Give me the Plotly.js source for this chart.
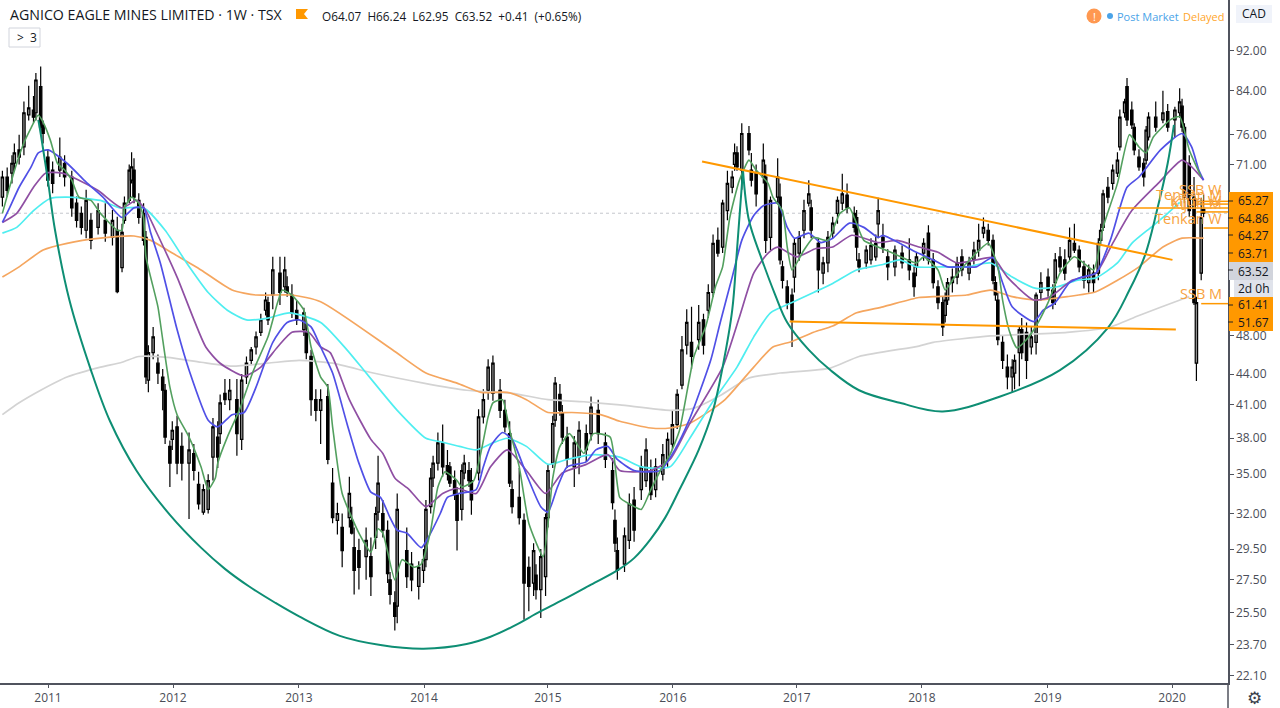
<!DOCTYPE html>
<html><head><meta charset="utf-8">
<script src="https://cdn.plot.ly/plotly-3.0.1.min.js"></script>
<style>html,body{margin:0;padding:0;background:#fff;overflow:hidden}#c{width:1280px;height:708px}</style>
</head><body><div id="c"></div>
<script>
// Weekly bars (bar number counted from the left edge of the chart)
const weeks=[1,3,5,6,8,10,12,14,15,17,
18,20,22,25,27,30,32,34,36,38,
41,44,47,49,51,52,54,55,56,58,
60,61,62,64,66,68,69,71,72,74,
76,79,81,83,85,87,89,91,92,94,
96,99,101,103,105,107,109,111,112,114,
117,119,120,122,124,127,128,130,132,134,
137,139,141,143,146,147,148,150,153,155,
157,158,160,162,163,165,166,170,172,175,
177,178,180,181,183,185,187,188,190,191,
193,194,196,197,200,202,204,206,209,211,
213,214,217,219,221,223,224,226,228,229,
231,232,234,235,237,240,242,245,247,250,
253,256,257,258,261,263,265,268,270,272,
274,277,279,281,283,285,287,289,292,294,
296,298,300,302,304,306,307,308,310,313,
314,316,319,320,322,325,326,327,329,331,
332,334,336,338,339,342,344,346,348,350,
352,354,357,358,359,362,364,366,367,369,
371,374,377,380,382,383,386,388,390,392,
394,395,396,398,400,402,405,407,409,411,
413,415,416,417,419,421,423,424,426,427,
429,431,433,435,438,440,441,443,445,447,
449,451,453,455,457,459,460,461,463,465,
467,468,470,471,473,474,476,478,479,480,
483,486,488,491,493,494,495,497,499,500,
502,503];
const opens=[65.9,69,69.6,71.2,73.4,73.9,79.5,80.4,79.9,84.8,
77.7,72.2,70.1,70.1,71.2,69,65,63.5,61.1,62.5,
61.5,62.5,60.1,61.1,56.1,62.5,65.4,68.5,70.1,65.4,
63.5,60.1,43.4,46.2,45.1,43.7,42.4,37.3,37.9,39,
37.3,35.9,36.7,34.2,32.1,32.3,36.4,38.1,38.4,42.1,
41.5,41.5,37.9,43.7,45.4,46.8,48.4,50.9,51.8,52.7,
55.4,53.7,53.7,52.7,50.9,48.7,48.4,45.8,41.5,40.5,
41.8,34.3,31.5,31,31.7,31.5,29.6,29.4,29,29,
30.3,32.1,32,30.8,27.5,26.1,25.9,29.4,28.5,27.1,
28.1,28.8,32.5,34.7,35.9,37.6,35.7,35.6,34.5,33.4,
32.3,35.1,35.3,34.5,35.1,39.9,42.4,42.1,42.4,40.5,
38.4,33.8,33.2,31.5,28.3,27.3,27.8,26.9,27.7,31.7,
35.9,39.6,42,40.3,38.1,35.6,36.4,38.4,38.4,40.5,
37.6,35.3,31.5,29.4,28.5,30.1,33,33.8,34.5,35.3,
33.8,35,36.2,37.5,39.2,42.9,47,47.3,47.6,49.8,
50.9,53,59.7,58.8,63.9,67.4,71,72.9,70.1,76.2,
70.1,69.6,69,69,60.1,65.9,65.9,56.2,53.7,52.7,
54.9,58,61.1,65,64.3,59.3,55.4,56.7,60.7,63.5,
65,66.2,63.5,62.9,57.1,56.7,57.1,57.5,62,60.1,
57.5,56.2,58,57.1,55.4,56.2,58,60.7,57.1,53.7,
51.8,50.3,52.1,54.2,54.9,57.5,55.4,57.1,58.4,60.7,
61.1,59.7,54.2,52.1,47.3,44.7,43.7,44.1,46.2,48.7,
48.4,46.8,47.3,53,54.9,53.3,54.2,57.5,57.1,57.5,
59.3,58.4,56.2,54.2,55.4,55.4,59.7,61.5,67.4,68,
69.6,73.9,79.9,84.8,80.4,77.3,72.2,71.2,71.7,75.6,
79.1,78.6,80.1,78.6,79.9,81.1,77.3,71.2,65.9,45.1,
55.4,64.07];
const highs=[70,70.5,72.5,74.5,76,82,85,83,87.5,88.8,
78.5,73.5,71.5,75.5,72.5,70,66,64.5,67,63.5,
65,65,64,63,62,66,71,73,72,66.5,
65,61,47,49,46,44.5,43,37.8,39.5,40,
38.5,38.5,37.5,35.2,34.2,35,39.8,39.5,42,43.5,
43.5,43.5,44,45.8,46.8,48.5,50.5,53,52.5,57.5,
57.5,57.5,55,54,52,51.2,49.5,46.5,42.5,42.5,
43,35.5,32.8,32,34.8,32.5,31,30.2,31,30.3,
32.5,36.5,33,31.5,28,26.8,33.5,31,29.3,28.7,
29.5,33,35.5,36.5,38.5,39.2,37,36,35.3,34,
35.8,36.6,36,35.5,40.6,42.5,45.5,45.9,43.5,41.5,
39.5,34.5,35.5,32,29,29.9,28.5,29.5,32,35.8,
40,43.7,43,41,39,38.2,39.5,39.2,41.8,41.5,
38.5,36.3,32.3,30.3,31,33.5,34,36.5,38,36.2,
36.3,37.5,38.5,40.5,42.5,48,51,51.3,51.5,50.5,
54,60.5,61.5,65.5,70,70,74.5,74,78,77.5,
72.9,71,74.5,71,66,72,68,57,54.5,53.5,
60,61,65.5,68.5,65.5,60,57.5,61,63,66,
69.5,68,64.5,64,58,59,60,60.5,65.8,62,
58.5,59,59,60,56.5,58,60,61.8,58,54.5,
52.5,53,54.8,56,57.5,58.5,57.5,59.5,62,62.9,
62,60.5,55,53,48,46,45.5,46,49,50,
49.5,49,53,55.5,56,54,58,58.8,58.5,61.5,
62,59,57,56.5,56.5,60,62,67,69,71,
73,80.5,82.5,86.5,82,78,73.5,72,77.5,80,
82,84,81.5,81,84.5,82.5,78,72.5,69,52.5,
65.8,66.24];
const lows=[64.5,66,68,70,71,72.5,78.5,78,78.5,76,
74.5,67.5,66.5,69,67.5,63,61.5,60.5,60,58.5,
60.5,59.5,59,52.9,55.5,62,65,68,65,62,
59,43,42.2,45.5,43,40.5,37.5,34,37,35,
34.5,31.6,34.5,32.3,31.9,32,34.5,35.5,37.5,41,
40.5,36.5,37,43,45,46,48,50.3,49.2,51,
51.5,53,52.5,50,49.2,48,45.5,40,39.5,37.5,
35.8,31.3,30.5,28.3,31,30.5,26.6,26.9,27.5,26.5,
29.5,31.5,30.3,27.3,26,24.5,24.9,27,26.8,26.3,
27.3,28.3,32,34,35.3,34.8,34.5,34,33,29.4,
31.5,34.6,34,31.9,34.5,39.3,41.5,41.4,39.8,38.5,
34,32,31.2,25.1,25.6,26.5,26.3,25.2,26.5,31,
35.5,39,40,37.5,35.5,34,35,36,37.8,37.5,
35.5,32.3,29.3,27.5,28,29.5,30,33,34,33,
33.2,34.5,35.5,37,38.8,42.5,46,44.5,46.5,46,
50,52.5,57.5,58,62.5,66.5,70,70,67,72.5,
67.5,64.5,68,58,58.4,65,56.5,53.5,51,46.8,
53,57,60,64.5,60,53,54,55.5,60,62,
64,63.5,60.8,57,55.5,56,56.5,57,60,58,
54.5,55,56,54.5,52.5,55,57,56.5,53.5,51,
48,49.5,51.5,53,54,55,54.5,56.5,57.5,60,
59,54,52,47,44.5,42.5,42.2,42.5,42.8,45.5,
43.5,46,46,52,52.5,51,51.5,55.5,54.5,57,
58,55.5,53.5,53,53,54.5,59,61,65,67,
69,73.3,79,77.5,77,72.5,70,67.5,71,75,
76.5,78,76.5,75.5,79,76.5,65,63,51.5,43.3,
54.5,62.95];
const closes=[69,66.9,71.2,72.9,72.2,79.9,80.8,79.1,86.1,77.3,
76.2,68.5,68,72.2,69,64.3,62.5,61.5,65.4,59.7,
63.9,60.7,62.5,53.1,60.8,65,70.1,70.6,65.9,62.9,
59.7,43.7,46.2,47.9,44.1,42.4,38.1,35.9,38.7,35.9,
35.9,37,35.3,32.7,33.8,34.5,39,36.4,41.2,41.5,
42.4,38.4,43.4,45.1,46.5,47.9,49.8,52.1,49.8,55.8,
53,55.8,53,50.6,49.8,50.6,46.2,41.5,40.5,41.5,
36.2,31.7,32,29.4,33.5,30.6,28.1,28.3,30.1,27.7,
32,34.3,30.8,27.9,26.6,25.3,32.3,27.7,27.5,28.3,
28.8,32.3,34.7,35.9,37.6,35.6,35,34.3,33.4,31.5,
35.3,35.9,34.5,33,39.9,41.5,44.7,45.1,40.5,39,
34.3,32.5,31.7,27.3,27.1,29.4,26.9,29,31.7,35.3,
39.3,43.1,40.5,38.1,36.2,37.6,38.7,37,40.8,38.4,
36.2,32.8,29.9,28.1,30.4,32.7,30.8,35.6,37,33.4,
35.6,36.6,37.9,39.2,42,46.5,49.5,45.8,49.5,47,
53,59.3,58,65,68,69,72.9,70.6,76.2,73.4,
68.5,66.4,71.7,59.7,65.4,69,57.1,54.5,51.8,49.8,
59.3,60.1,63.9,66.4,61.1,55.8,56.7,60.1,62.1,65.4,
66.4,64.3,61.5,58.8,56.2,58.4,59,59.3,63.9,58.8,
56.2,58.4,56.7,55.8,53.7,57.5,59.3,57.1,54.2,51.8,
49,52.1,54.2,54.9,56.7,55.8,56.7,58.4,59.7,61.5,
59.7,54.5,52.7,47.6,45.4,43.7,44.7,45.4,48.7,46.2,
45.4,47.9,52.7,54.2,53.3,51.8,57.1,56.2,55.4,59.7,
58.4,56.2,54.5,55.8,54.2,59.3,61.1,66.4,65.9,70.1,
71.7,79.1,81.9,78.6,77.7,73.4,70.6,69,76.8,79.1,
77.3,79.9,77.3,80.4,81.9,77.3,65.9,63.9,51.8,51.8,
62.9,63.52];

// Moving averages: [bar number], [price]
const maFastW=[1,4,7,10,13,16,18,21,24,27,30,33,38,42,49,51,52,55,58,60,61,66,68,71,74,79,84,87,90,91,95,100,106,112,116,118,122,127,130,134,137,139,143,150,155,158,160,165,168,173,176,180,183,186,191,193,198,204,206,210,213,217,221,227,231,234,238,244,248,255,259,263,268,272,276,280,284,290,295,299,302,305,309,313,316,321,323,327,329,331,336,340,346,351,355,361,367,373,383,386,392,395,399,404,413,417,419,422,425,429,433,438,443,449,457,461,467,472,476,479,482,489,493,497,502];
const maFastP=[63.5,67.4,71.2,74.6,77.2,79.5,78.2,75.1,71.2,70.1,68.5,65.9,65.4,63.5,61.1,61.1,64.3,65.9,65,62.9,57.5,51.3,47.6,42.7,40.1,38.1,35.6,33.8,34.7,35.9,38.1,40.5,44.4,47.9,51.8,53.3,52.7,50.9,46.8,43.7,42.7,39,33.5,30.6,29.3,30.9,30.6,27.5,28.8,28.3,28.5,30.8,34,35.2,34.5,34,34.5,39.9,41.2,41.5,38.7,35.6,31.3,29,34.7,37.3,38.4,36.7,38.4,38.1,33.2,32.7,32.3,33.8,35.3,36.6,38.7,45.8,49.1,53.7,56.2,62.9,68.5,71.7,70.1,68,65.9,63.9,58.8,55.8,58.4,60.1,59.7,63.5,64.3,59.7,58.8,58,56.7,57.5,55.8,53.3,54.9,56.7,59.3,56.2,52.1,48.4,46.7,47.6,49.1,51.8,55.4,57.5,55.8,61.5,68,76,73.9,72.9,75.6,78.6,79.2,73.4,69];
const maMidW=[1,4,8,13,16,20,28,36,43,51,56,60,63,67,74,79,87,91,97,102,107,114,120,125,130,134,139,145,150,155,159,163,166,170,176,179,184,187,192,199,202,205,210,214,220,226,229,233,237,245,249,254,258,265,276,282,288,297,301,306,310,315,319,325,329,332,338,343,348,355,361,367,369,376,383,390,396,402,408,415,419,423,432,436,441,447,452,458,464,471,476,485,494,498,501,503];
const maMidP=[62.2,64.3,67.4,70.6,72.9,73.4,71.2,68.2,65.9,62.9,64.3,64.3,60.7,56.7,48.7,44.4,39.6,39,40.1,40.3,42.7,47.3,49.5,49.8,49,46.8,44.1,39.3,35.9,33.6,33.2,31.7,30.8,30.6,29.6,30.3,32,33.2,33.5,33.8,35.6,37.3,38.5,37.9,35,32.5,32.1,34,35.6,36,37,37.3,36.2,35.3,35.3,37,39.6,45.4,49.5,54.9,59.7,63.2,64.6,65,61.5,60,60.7,59.4,60,62.1,61.5,60.1,60.4,59.3,58.1,57.1,56.2,56.2,56.2,57.4,54.2,51.3,49.6,50.9,51.8,54.2,54.9,55.4,59.7,67.4,69,73.4,76.2,73.9,70.1,68.5];
const maSlowW=[1,7,14,19,26,33,41,51,57,61,65,74,86,92,102,109,116,122,129,134,138,146,155,160,165,171,178,185,191,199,205,212,220,228,235,245,254,259,272,280,288,302,309,315,321,325,333,341,348,356,367,375,384,392,400,408,415,421,432,439,448,458,465,473,484,494,498,503];
const maSlowP=[62.2,63.5,67.4,69.6,69.6,68.5,66.9,64.3,65.4,63.9,61.1,54.9,46.8,45.1,43.8,44.7,46.8,48.4,48.4,46.8,46.2,41.5,37.9,36.7,34.7,33.8,32.5,33.5,33.9,33.5,35.6,37,35.3,33.5,35.1,35.8,36.6,35.3,35.3,36.2,39.2,44.7,50.1,55.4,58,58.8,57.5,58.6,58.8,60.4,59.4,59.7,58.8,58.1,56.7,57.1,57.4,54.9,52.1,52.5,54.5,55.4,59.3,63.9,68,71.7,70.6,68.5];
const maCyanW=[1,7,14,21,28,42,50,60,69,78,87,95,103,112,121,134,145,152,160,166,178,184,192,199,206,212,220,229,237,248,259,268,280,288,297,308,315,322,331,340,348,358,369,376,383,394,404,414,423,433,442,450,458,467,473,481,488,493];
const maCyanP=[60.7,61.5,63.9,65.7,65.9,65.4,64.3,64.3,61.1,56.7,53,50.9,49.8,50,50.6,49.5,46.5,44.4,42.1,40.5,38,37.7,37.3,37,37.6,38,37.3,35.8,36.2,36.6,36.4,35.6,35.6,37.9,41,44.7,47.9,50.6,51.8,53,54.1,55.8,56.5,57.1,56.2,56.2,56.2,56.7,54.9,53.5,53.7,54.5,54.8,56.7,59.3,61.5,63.5,65.1];
const maOrangeW=[1,8,18,28,42,56,63,72,84,97,107,122,134,164,178,191,201,212,220,229,239,251,259,272,280,288,297,303,315,323,331,340,348,358,369,384,390,404,414,423,433,446,458,467,476,486,494,503];
const maOrangeP=[54.9,56.2,58.4,59.3,60,60.3,59.7,58,55.8,53.3,52.7,52.7,51.9,46.5,44.1,43.1,42.2,42.2,41.5,40.3,40.3,40.1,39.5,38.9,38.9,39.3,40.5,41.5,44.7,46.8,47.4,48.4,49.1,50.6,51.3,52.4,52.5,52.7,53.3,52.5,52.1,52.5,53.1,54.5,56.2,58.8,60,60];
const maGreyW=[1,8,17,28,42,51,58,70,84,97,112,125,139,156,177,195,214,229,244,259,280,290,301,313,326,347,359,384,390,414,446,463,476,494,497];
const maGreyP=[40.1,41.2,42.4,43.7,44.7,45.2,45.8,45.7,45.2,44.8,45.1,45.4,45.1,44.1,43.1,42.4,42.1,41.5,41.3,41,40.5,40.7,41.9,43.6,44.1,44.6,45.8,46.9,47.3,48,48.4,48.9,50.3,52.2,52.5];

// Hand-drawn arcs and trend lines
const arcBigW=[16,17,20,23,29,38,46,57,71,84,94,104,115,125,142,159,177,195,205,214,226,237,247,258,265,272,278,284,292,298,302,306,308,310.5];
const arcBigP=[78.6,76.2,68.5,61.1,52.1,44.4,39.5,35.3,31.9,29.6,28.2,27.1,26.1,25.3,24.2,23.7,23.5,23.75,24.15,24.7,25.6,26.4,27.2,28.1,28.9,30.2,31.7,33.8,37,40.5,44.7,50.9,58.4,70.1];
const arcSmallW=[310.5,313,318,324,329,338,347,359,376,394,418,443,463,472,478.5,483.5,488,490.6];
const arcSmallP=[70.1,62.5,57.5,52.7,49.5,46.5,44.4,42.4,41.2,40.4,41.8,44.4,48.9,53.3,57.7,63.9,71.2,77.7];
const trendTopW=[293.4,490], trendTopP=[71.5,57.1];
const trendLowW=[330,491.4], trendLowP=[49.6,48.7];
const levelPrices=[65.27,64.86,64.27,63.71,61.41,51.67];
const levelStarts=[500,500,467,500,503,502];

// Axis labels
const yearWeeks=[20.06,72.3,124.9,177.2,229,281.2,333,385.3,437.9,489.8];
const yearLabels=['2011','2012','2013','2014','2015','2016','2017','2018','2019','2020'];
const priceTicks=[92,84,76,71,48,44,41,38,35,32,29.5,27.5,25.5,23.7,22.1];
const lastPrice=63.52;
const orangeTags=[['65.27',201],['64.86',218],['64.27',235],['63.71',253],['61.41',305],['51.67',322]];
const levelNames=[['SSB W',1223,190],['Tenkan M',1223,194],['Kijun W',1223,200],['Kijun M',1223,203],['Tenkan W',1223,218],['SSB M',1223,293]];

const W=1228,H=683,FONT='"Open Sans",sans-serif';
const px=x=>x/W, py=y=>1-y/H;
const DARK='#131722',AX='#50535e',ORG='#ff9800';
const ann=(text,x,y,o={})=>Object.assign({text,x:px(x),y:py(y),xref:'paper',yref:'paper',showarrow:false,xanchor:'left',yanchor:'middle',borderpad:0,
  font:{family:FONT,size:12,color:DARK}},o);
const rect=(x0,y0,x1,y1,o={})=>Object.assign({type:'rect',xref:'paper',yref:'paper',x0:px(x0),x1:px(x1),y0:py(y0),y1:py(y1),line:{width:0},layer:'above'},o);
const seg=(x0,y0,x1,y1,color,width)=>({type:'line',xref:'paper',yref:'paper',x0:px(x0),x1:px(x1),y0:py(y0),y1:py(y1),line:{color,width},layer:'above'});

const traces=[
 {type:'candlestick',x:weeks,open:opens,high:highs,low:lows,close:closes,whiskerwidth:0,hoverinfo:'skip',
  increasing:{line:{color:'#000',width:1.2},fillcolor:'#8c8c8c'},decreasing:{line:{color:'#000',width:1.2},fillcolor:'#000'}}
];
const line=(x,y,color,width,smoothing)=>traces.push({type:'scatter',mode:'lines',x,y,hoverinfo:'skip',line:{color,width,shape:'spline',smoothing}});
line(maGreyW,maGreyP,'#d3d3d3',1.7,0.6);
line(maOrangeW,maOrangeP,'#f5a65f',1.7,0.6);
line(maCyanW,maCyanP,'#4feef0',1.7,0.6);
line(maSlowW,maSlowP,'#8f4fa3',1.7,0.6);
line(maMidW,maMidP,'#5050e6',1.7,0.6);
line(maFastW,maFastP,'#53a05f',1.6,0.5);
line(arcBigW,arcBigP,'#0e8e74',2,1);
line(arcSmallW,arcSmallP,'#0e8e74',2,1);
traces.push({type:'scatter',mode:'lines',x:trendTopW,y:trendTopP,hoverinfo:'skip',line:{color:ORG,width:2}});
traces.push({type:'scatter',mode:'lines',x:trendLowW,y:trendLowP,hoverinfo:'skip',line:{color:ORG,width:2}});
levelPrices.forEach((p,i)=>traces.push({type:'scatter',mode:'lines',x:[levelStarts[i],513.2],y:[p,p],hoverinfo:'skip',line:{color:ORG,width:1.5}}));

const shapes=[
 {type:'line',xref:'paper',yref:'y',x0:0,x1:1,y0:lastPrice,y1:lastPrice,line:{color:'#c4c6cc',width:1,dash:'dot'},layer:'below'},
 seg(W,683,W,708,AX,1.5),
 rect(1229,192,1273,262,{fillcolor:ORG}),
 rect(1229,262,1273,280,{fillcolor:'#d1d4dc'}),
 rect(1234,280,1273,297,{fillcolor:'#e0e3eb'}),
 rect(1229,297,1273,331,{fillcolor:ORG}),
 rect(1236,5,1272,23,{fillcolor:'#f0f3fa'}),
 {type:'rect',xref:'paper',yref:'paper',x0:px(9),x1:px(40),y0:py(28),y1:py(47),line:{color:'#d1d4dc',width:1},fillcolor:'#fff',layer:'above'},
 {type:'path',xref:'paper',yref:'paper',path:`M ${px(296)} ${py(9)} L ${px(308)} ${py(9)} L ${px(304)} ${py(14)} L ${px(308)} ${py(19)} L ${px(296)} ${py(19)} Z`,fillcolor:ORG,line:{width:0},layer:'above'},
 {type:'circle',xref:'paper',yref:'paper',x0:px(1086.5),x1:px(1101.5),y0:py(8.5),y1:py(23.5),fillcolor:'#ff9850',line:{width:0},layer:'above'},
 {type:'circle',xref:'paper',yref:'paper',x0:px(1107),x1:px(1113),y0:py(13),y1:py(19),fillcolor:'#4aa3e8',line:{width:0},layer:'above'},
 seg(W,201,1233,201,'#222',1),seg(W,218,1233,218,'#222',1),seg(W,235,1233,235,'#222',1),seg(W,253,1233,253,'#222',1),
 seg(W,270,1233,270,'#222',1),seg(W,305,1233,305,'#222',1),seg(W,322,1233,322,'#222',1)
];

const annotations=[
 ann('AGNICO EAGLE MINES LIMITED · 1W · TSX',9,15,{font:{family:FONT,size:14.2,color:DARK}}),
 ann('O64.07  H66.24  L62.95  C63.52  +0.41  (+0.65%)',321,16,{font:{family:FONT,size:11.8,color:DARK}}),
 ann('>  3',16,38),
 ann('!',1094,16,{xanchor:'center',font:{family:FONT,size:11,color:'#fff'}}),
 ann('Post Market',1116,16,{font:{family:FONT,size:11,color:'#4aa3e8'}}),
 ann('Delayed',1182,16,{font:{family:FONT,size:11,color:'#ffa62b'}}),
 ann('CAD',1254,14,{xanchor:'center'}),
 ann('63.52',1237,271,{font:{family:FONT,size:12,color:DARK}}),
 ann('2d 0h',1237,288,{font:{family:FONT,size:12,color:DARK}}),
 ann('⚙',1255,698,{xanchor:'center',font:{family:'DejaVu Sans',size:17,color:'#3a3e4a'}})
];
orangeTags.forEach(t=>annotations.push(ann(t[0],1237,t[1],{font:{family:FONT,size:12,color:DARK}})));
levelNames.forEach(t=>annotations.push(ann(t[0],t[1],t[2],{xanchor:'right',font:{family:FONT,size:14.5,color:'#f7a23e'}})));

const layout={
 width:1280,height:708,margin:{l:0,r:52,t:0,b:25,pad:0},paper_bgcolor:'#fff',plot_bgcolor:'#fff',showlegend:false,
 font:{family:FONT,size:12,color:'#4a4d57'},
 xaxis:{type:'linear',range:[0,513.2],tickmode:'array',tickvals:yearWeeks,ticktext:yearLabels,showgrid:false,zeroline:false,
   showline:true,linecolor:AX,linewidth:1.5,ticks:'outside',ticklen:3,tickcolor:AX,rangeslider:{visible:false},tickfont:{size:12,color:'#4a4d57'}},
 yaxis:{type:'log',side:'right',range:[Math.log10(21.73),Math.log10(103.36)],tickmode:'array',tickvals:priceTicks,ticktext:priceTicks.map(v=>v.toFixed(2)),
   showgrid:false,zeroline:false,showline:true,linecolor:AX,linewidth:1.5,ticks:'outside',ticklen:4,tickcolor:AX,tickfont:{size:12,color:'#4a4d57'}},
 boxgap:0,boxgroupgap:0,shapes,annotations
};
Plotly.newPlot('c',traces,layout,{staticPlot:true,displayModeBar:false});
</script></body></html>
